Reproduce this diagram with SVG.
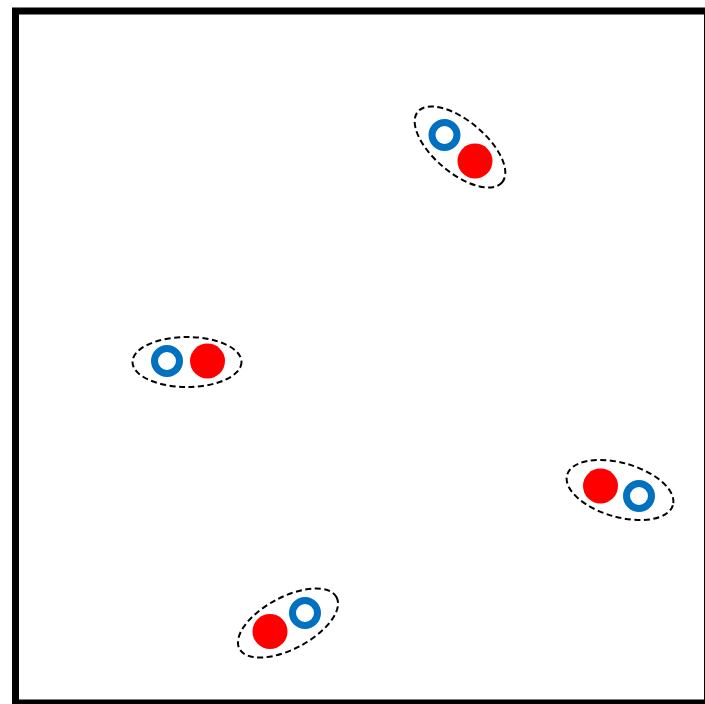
<svg xmlns="http://www.w3.org/2000/svg" width="705" height="704" viewBox="0 0 705 704">
<style>
.frame{fill:#fff;stroke:#000;stroke-width:7}
.hull{fill:none;stroke:#000;stroke-width:2;stroke-dasharray:6 3.5}
.ring{fill:none;stroke:#0070C0;stroke-width:7}
.dot{fill:#FF0000}
</style>
<rect width="705" height="704" fill="#fff"/>
<rect class="frame" x="15.5" y="11" width="692" height="692"/>
<g id="pair1">
<ellipse class="hull" cx="0" cy="0" rx="55" ry="26" transform="translate(460,147) rotate(40)"/>
<circle class="ring" cx="444.5" cy="135" r="12.5"/>
<circle class="dot" cx="475" cy="161" r="17.5"/>
</g>
<g id="pair2">
<ellipse class="hull" cx="187" cy="362" rx="54.5" ry="25"/>
<circle class="ring" cx="167" cy="361" r="12.5"/>
<circle class="dot" cx="207.5" cy="361" r="17.5"/>
</g>
<g id="pair3">
<ellipse class="hull" cx="0" cy="0" rx="55" ry="27" transform="translate(620,490) rotate(16)"/>
<circle class="dot" cx="600.5" cy="486" r="17.5"/>
<circle class="ring" cx="639" cy="496" r="12.5"/>
</g>
<g id="pair4">
<ellipse class="hull" cx="0" cy="0" rx="55" ry="26" transform="translate(288,623) rotate(-28)"/>
<circle class="dot" cx="270" cy="631.5" r="17.5"/>
<circle class="ring" cx="305" cy="613" r="12.5"/>
</g>
<g id="connectors"></g>
</svg>
